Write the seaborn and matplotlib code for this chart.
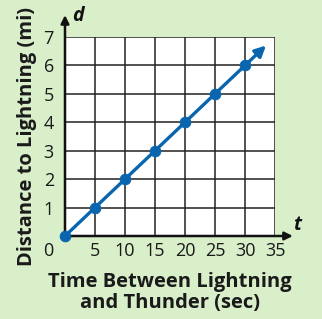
import matplotlib
matplotlib.use("Agg")
import matplotlib.pyplot as plt
import seaborn as sns
import pandas as pd

# data
time_sec = [0, 5, 10, 15, 20, 25, 30]
distance_mi = [0, 1, 2, 3, 4, 5, 6]
ray_end_time = 33.5
ray_end_dist = 6.7
x_ticks = [5, 10, 15, 20, 25, 30, 35]
y_ticks = [1, 2, 3, 4, 5, 6, 7]
x_label = "Time Between Lightning\nand Thunder (sec)"
y_label = "Distance to Lightning (mi)"

sns.set_theme(style="white")
plt.rcParams['font.family'] = ['Open Sans', 'DejaVu Sans']

bg = '#d9efc9'
blue = '#0966ae'
grid_c = '#222222'

df = pd.DataFrame({"t": time_sec, "d": distance_mi})

fig = plt.figure(figsize=(3.22, 3.19), dpi=100, facecolor=bg)
ax = fig.add_axes([65/322, 83/319, 210/322, 199/319])
ax.set_facecolor('white')
ax.set_xlim(0, 35)
ax.set_ylim(0, 7)
ax.set_xticks(x_ticks)
ax.set_yticks(y_ticks)
ax.grid(True, color=grid_c, lw=1.1)
for s in ax.spines.values():
    s.set_visible(False)
ax.tick_params(length=0, labelsize=13, colors='#1a1a1a')
ax.tick_params(axis='y', pad=8)
ax.tick_params(axis='x', pad=4)

sns.lineplot(data=df, x="t", y="d", ax=ax, color=blue, lw=2.4, zorder=5)
sns.scatterplot(data=df, x="t", y="d", ax=ax, color=blue, s=60, edgecolor=blue, zorder=6, clip_on=False)
ax.annotate('', xy=(ray_end_time, ray_end_dist), xytext=(time_sec[-1], distance_mi[-1]),
            arrowprops=dict(arrowstyle='-|>', color=blue, lw=2.4, mutation_scale=16,
                            shrinkA=0, shrinkB=0), zorder=5)

ax.set_xlabel(x_label, fontsize=14.5, fontweight='bold', color='#1a1a1a', labelpad=9, linespacing=1.05)
ax.set_ylabel(y_label, fontsize=14.5, fontweight='bold', color='#1a1a1a', labelpad=5)

# axes with arrows
ax.annotate('', xy=(0, 1.11), xycoords='axes fraction', xytext=(0, 0), textcoords='axes fraction',
            arrowprops=dict(arrowstyle='-|>', color='#111', lw=1.8, mutation_scale=12, shrinkA=0, shrinkB=0))
ax.annotate('', xy=(1.085, 0), xycoords='axes fraction', xytext=(0, 0), textcoords='axes fraction',
            arrowprops=dict(arrowstyle='-|>', color='#111', lw=1.8, mutation_scale=12, shrinkA=0, shrinkB=0))
ax.annotate('d', xy=(0, 1.11), xycoords='axes fraction', xytext=(5, -1), textcoords='offset points',
            fontsize=14, fontweight='bold', style='italic', color='#111', va='center', ha='left')
ax.annotate('t', xy=(1.085, 0), xycoords='axes fraction', xytext=(0, 8), textcoords='offset points',
            fontsize=14, fontweight='bold', style='italic', color='#111', va='center', ha='left')
ax.annotate('0', xy=(0, 0), xycoords='axes fraction', xytext=(-12, -11), textcoords='offset points',
            fontsize=13, color='#1a1a1a', va='center', ha='center')

fig.savefig('out.png', dpi=100, facecolor=bg)
